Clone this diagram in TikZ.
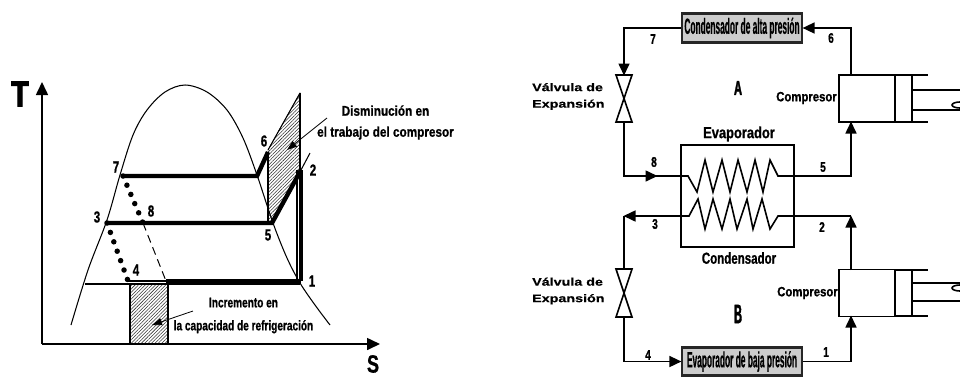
\documentclass[tikz,border=0pt]{standalone}
\usepackage{fontspec}
\setmainfont{Liberation Sans}
\newfontfamily\cnd[FakeStretch=0.72,FakeBold=0.8]{Liberation Sans}
\newfontfamily\cnx[FakeStretch=0.84,FakeBold=0.9]{Liberation Sans}
\newfontfamily\ncnd[FakeStretch=0.38,FakeBold=0.4]{Liberation Sans}
\newfontfamily\wide[FakeStretch=1.3,FakeBold=0.6]{Liberation Sans}
\newfontfamily\fat[FakeStretch=0.8,FakeBold=2.5]{Liberation Sans}
\usetikzlibrary{arrows.meta,patterns.meta}
\tikzset{
  x=1pt,y=-1pt,
  line/.style={line width=1.6pt},
  thin line/.style={line width=1.05pt},
  heavy/.style={line width=4.4pt},
  hatch/.style={pattern={Lines[angle=45,distance=2.4pt,line width=0.55pt]},pattern color=black!80},
  flow/.style={line width=1.6pt,-{Triangle[length=12pt,width=11pt]},shorten >=-0.5pt},
  leader/.style={line width=0.8pt,-{Triangle[length=10pt,width=7pt]}},
  dots/.style={line width=5.5pt,line cap=round,dash pattern=on 0pt off 10pt},
  num/.style={font=\cnd\bfseries\fontsize{16}{16}\selectfont,inner sep=0pt},
  small num/.style={font=\cnd\bfseries\fontsize{14}{14}\selectfont,inner sep=0pt},
  note/.style={font=\cnx\bfseries\fontsize{14}{21}\selectfont,inner sep=0pt,align=center},
  note two/.style={font=\cnd\bfseries\fontsize{14}{23}\selectfont,inner sep=0pt,align=center},
  valve label/.style={font=\wide\bfseries\fontsize{11}{16.5}\selectfont,inner sep=0pt,align=left,anchor=west},
  comp label/.style={font=\cnx\bfseries\fontsize{13.5}{14}\selectfont,inner sep=0pt},
  caption/.style={font=\cnd\bfseries\fontsize{16}{16}\selectfont,inner sep=0pt},
  gbox/.style={draw=black!85,line width=2.2pt,fill=black!20,inner sep=0pt,minimum height=29pt,minimum width=120pt,font=\ncnd\bfseries\fontsize{22}{22}\selectfont},
  hx/.style={draw,line width=1.6pt,minimum width=113pt,minimum height=102pt,inner sep=0pt},
  cyl/.style={draw,line width=1.8pt,minimum width=56pt,minimum height=47pt,inner sep=0pt},
  vtri/.style={draw,line width=1.6pt},
  big letter/.style={font=\fat\bfseries\fontsize{14}{14}\selectfont,inner sep=0pt},
}
\begin{document}
\begin{tikzpicture}
\useasboundingbox (0,0) rectangle (960,376);
% ---------- T-S diagram ----------
\coordinate (O) at (42,344);
\coordinate (Ttop) at (42,82);
\coordinate (Send) at (380,344);
\draw[hatch] (300,93) -- (268,150) -- (268,220) -- (272,223) -- (300,170) -- cycle;
\draw[hatch] (130,284) rectangle (168,344);
\draw[thin line] (300,93) -- (268,150);
\draw[thin line] (300,93) -- (300,170);
\draw[thin line] (130,284) rectangle (168,344);
\draw[line width=1.6pt,-{Triangle[length=13pt,width=12pt]}] (O) -- (Ttop);
\draw[line width=1.6pt,-{Triangle[length=13pt,width=12pt]}] (O) -- (Send);
\draw[thin line] plot[smooth,tension=0.55] coordinates {(71,325) (88,270) (107,220) (120,175) (133,135) (147,110) (165,92) (185,85) (207,92) (227,110) (243,138) (257,175) (273,223) (287,258) (300,283) (315,305) (330,325)};
\draw[thin line] (85,284) -- (300,284);
\draw[thin line] (297,170) -- (297,280);
\coordinate (p1) at (301,281);
\coordinate (p2) at (301,170);
\coordinate (p3) at (107,223);
\coordinate (p4) at (128,281);
\coordinate (p4b) at (166,281);
\coordinate (p5) at (272,223);
\coordinate (p6) at (268,152);
\coordinate (p6b) at (257,176);
\coordinate (p7) at (123,176);
\coordinate (p8) at (143,223);
\draw[heavy] (p1) -- (p4b);
\draw[line width=1.8pt] (p4b) -- (p4);
\draw[heavy] (p1) -- (p2);
\draw[heavy] (p3) -- (p5) -- (p2);
\draw[line width=1.4pt] (p5) -- (268,223) -- (p6);
\draw[heavy] (p7) -- (p6b) -- (p6);
\draw[thin line] (p2) -- (310,153);
\draw[dots] (p7) -- (p8);
\draw[line width=1pt,dash pattern=on 8pt off 5pt] (p8) -- (p4b);
\draw[dots] (p3) -- (p4);
\node[num] (t1) at (312,281) {1};
\node[num] (t2) at (313,170) {2};
\node[num] (t3) at (97,217) {3};
\node[num] (t4) at (136,270) {4};
\node[num] (t5) at (268,235) {5};
\node[num] (t6) at (264,141) {6};
\node[num] (t7) at (116,167) {7};
\node[num] (t8) at (151,211) {8};
\node[font=\fat\bfseries\fontsize{36}{36}\selectfont,inner sep=0pt] (lT) at (20,94) {T};
\node[font=\cnd\bfseries\fontsize{25}{25}\selectfont,inner sep=0pt] (lS) at (373,364) {S};
\node[note] (n1) at (385.5,122.5) {Disminución en\\el trabajo del compresor};
\node[note two] (n2) at (243.5,315.5) {Incremento en\\la capacidad de refrigeración};
\coordinate (l1) at (327,118);
\coordinate (l1e) at (287,150);
\coordinate (l2) at (193,311);
\coordinate (l2e) at (152,325);
\draw[leader] (l1) -- (l1e);
\draw[leader] (l2) -- (l2e);
% ---------- Cycles ----------
\node[gbox] (cond) at (742,28) {Condensador de alta presión};
\node[hx] (hxbox) at (737.5,196) {};
\node[cyl] (compA) at (867,98.5) {};
\node[cyl] (compB) at (867,293) {};
\node[gbox,minimum height=28pt] (evap) at (742,361.5) {Evaporador de baja presión};
\coordinate (vAt) at (624,75);
\coordinate (vAb) at (624,122);
\coordinate (vBt) at (624,269);
\coordinate (vBb) at (624,317);
\draw[vtri] (616,75) -- (632,75) -- (616,122) -- (632,122) -- cycle;
\draw[vtri] (616,269) -- (632,269) -- (616,317) -- (632,317) -- cycle;
\coordinate (a8) at (681,176);
\coordinate (a5) at (794,176);
\coordinate (b3) at (681,216);
\coordinate (b2) at (794,216);
\coordinate (cnA) at (624,176);
\coordinate (mA) at (657,176);
\coordinate (cnB) at (624,216);
\coordinate (cnC) at (851,216);
\coordinate (xA) at (851,122);
\coordinate (xAt) at (851,75);
\coordinate (xB) at (851,316);
\coordinate (xBt) at (851,270);
% A connectors
\draw[flow] (xAt) |- (cond.east);
\draw[flow] (cond.west) -| (vAt);
\draw[line] (vAb) |- (a8);
\draw[flow] (cnA) -- (mA);
\draw[flow] (a5) -| (xA);
% B connectors
\draw[flow] (b3) -- (cnB);
\draw[line] (cnB) -- (vBt);
\draw[flow] (vBb) |- (evap.west);
\draw[flow] (evap.east) -| (xB);
\draw[line] (b2) -- (cnC);
\draw[flow] (xBt) -- (cnC);
% coils
\draw[line] (a8) -- (688,176) -- (697,192) -- (705,160) -- (713,192) -- (722,160) -- (730,192) -- (738,160) -- (747,192) -- (755,160) -- (763,192) -- (770,160) -- (778,176) -- (a5);
\draw[line] (b3) -- (689,216) -- (698,199) -- (705,229) -- (713,199) -- (722,229) -- (730,199) -- (737,229) -- (747,199) -- (753,229) -- (762,199) -- (770,229) -- (778,216) -- (b2);
% compressors
\foreach \yt/\yb/\ra/\rb/\ly in {75/122/90/110/105,270/316/283/301/288}{
  \draw[line width=1.8pt] (895,\yt) -- (928,\yt);
  \draw[line width=1.8pt] (895,\yb) -- (928,\yb);
  \draw[thin line] (912,\yt) -- (912,\yb);
  \draw[line] (912,\ra) -- (960,\ra);
  \draw[line] (912,\rb) -- (960,\rb);
  \draw[line] (960,\ly-3) arc[start angle=90,end angle=270,x radius=8pt,y radius=3pt];
}
% labels
\node[big letter] (wA) at (738,88) {\scalebox{1}[1.45]{A}};
\node[big letter] (wB) at (738,314) {\scalebox{1}[1.9]{B}};
\node[valve label] (vlA) at (532,96.5) {Válvula de\\Expansión};
\node[valve label] (vlB) at (532,291) {Válvula de\\Expansión};
\node[comp label] (cA) at (806.5,98) {Compresor};
\node[comp label] (cB) at (807.5,293) {Compresor};
\node[caption] (ev) at (739,134) {\scalebox{1.12}[1]{Evaporador}};
\node[caption] (co) at (739,258) {Condensador};
\node[small num] (s7) at (653,39) {7};
\node[small num] (s6) at (831,38) {6};
\node[small num] (s8) at (654,162) {8};
\node[small num] (s5) at (823,167) {5};
\node[small num] (s3) at (655,224) {3};
\node[small num] (s2) at (822,227) {2};
\node[small num] (s4) at (648,355) {4};
\node[small num] (s1) at (826,352) {1};
\end{tikzpicture}
\end{document}
